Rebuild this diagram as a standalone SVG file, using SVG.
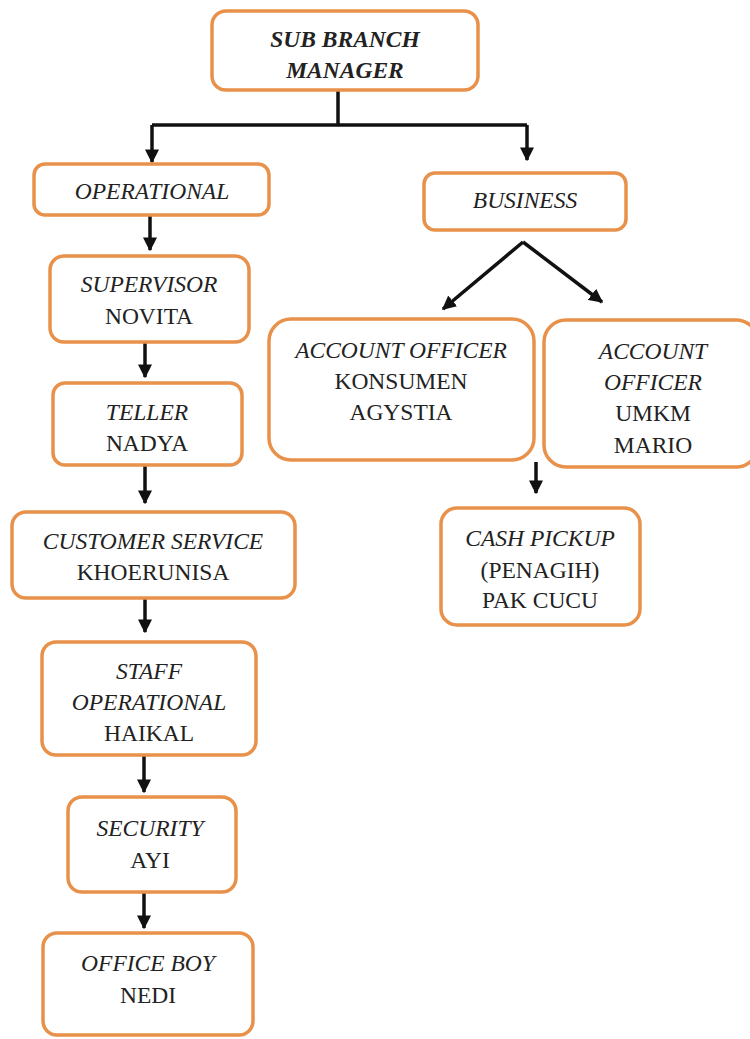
<svg xmlns="http://www.w3.org/2000/svg" width="750" height="1039" viewBox="0 0 750 1039">
<defs>
<marker id="ah" viewBox="0 0 10 10" refX="9" refY="5" markerWidth="4" markerHeight="4" orient="auto" markerUnits="strokeWidth">
<path d="M0,0 L10,5 L0,10 z" fill="#111"/>
</marker>
<style>
.box{fill:#fff;stroke:#E8914A;stroke-width:3.5}
.t{font-family:"Liberation Serif","Times New Roman",serif;font-size:23.5px;fill:#222;text-anchor:middle}
.i{font-style:italic}
.b{font-weight:bold}
.c{fill:none;stroke:#111;stroke-width:3.5}
</style>
</defs>
<rect width="750" height="1039" fill="#fff"/>
<g id="connectors">
<path class="c" d="M338,90 V125"/>
<path class="c" d="M152,125 H527"/>
<path class="c" d="M152,125 V162" marker-end="url(#ah)"/>
<path class="c" d="M527,125 V160" marker-end="url(#ah)"/>
<path class="c" d="M150,216 V250" marker-end="url(#ah)"/>
<path class="c" d="M145,343 V377" marker-end="url(#ah)"/>
<path class="c" d="M145,466 V503" marker-end="url(#ah)"/>
<path class="c" d="M145,599 V632" marker-end="url(#ah)"/>
<path class="c" d="M144,756 V792" marker-end="url(#ah)"/>
<path class="c" d="M144,893 V928" marker-end="url(#ah)"/>
<path class="c" d="M523,242 L443,309" marker-end="url(#ah)"/>
<path class="c" d="M523,242 L602,302" marker-end="url(#ah)"/>
<path class="c" d="M536,462 V493" marker-end="url(#ah)"/>
</g>
<g id="sbm">
<rect class="box" x="212" y="11" width="266" height="79" rx="14"/>
<text class="t i b" x="345" y="47">SUB BRANCH</text>
<text class="t i b" x="345" y="78">MANAGER</text>
</g>
<g id="operational">
<rect class="box" x="34" y="164" width="235" height="51" rx="11"/>
<text class="t i" x="152" y="199">OPERATIONAL</text>
</g>
<g id="business">
<rect class="box" x="424" y="173" width="202" height="57" rx="11"/>
<text class="t i" x="525" y="208">BUSINESS</text>
</g>
<g id="supervisor">
<rect class="box" x="50" y="256" width="199" height="86" rx="14"/>
<text class="t i" x="149" y="292">SUPERVISOR</text>
<text class="t" x="149" y="324">NOVITA</text>
</g>
<g id="teller">
<rect class="box" x="53" y="383" width="189" height="82" rx="12"/>
<text class="t i" x="147" y="420">TELLER</text>
<text class="t" x="147" y="451">NADYA</text>
</g>
<g id="cs">
<rect class="box" x="12" y="512" width="283" height="86" rx="14"/>
<text class="t i" x="153" y="549">CUSTOMER SERVICE</text>
<text class="t" x="153" y="580">KHOERUNISA</text>
</g>
<g id="staff">
<rect class="box" x="42" y="642" width="214" height="113" rx="14"/>
<text class="t i" x="149" y="679">STAFF</text>
<text class="t i" x="149" y="710">OPERATIONAL</text>
<text class="t" x="149" y="741">HAIKAL</text>
</g>
<g id="security">
<rect class="box" x="68" y="797" width="168" height="95" rx="14"/>
<text class="t i" x="150" y="836">SECURITY</text>
<text class="t" x="150" y="868">AYI</text>
</g>
<g id="officeboy">
<rect class="box" x="43" y="933" width="210" height="102" rx="14"/>
<text class="t i" x="148" y="971">OFFICE BOY</text>
<text class="t" x="148" y="1003">NEDI</text>
</g>
<g id="ao-konsumen">
<rect class="box" x="269" y="319" width="265" height="141" rx="22"/>
<text class="t i" x="401" y="358">ACCOUNT OFFICER</text>
<text class="t" x="401" y="389">KONSUMEN</text>
<text class="t" x="401" y="420">AGYSTIA</text>
</g>
<g id="ao-umkm">
<rect class="box" x="544" y="320" width="214" height="147" rx="22"/>
<text class="t i" x="653" y="359">ACCOUNT</text>
<text class="t i" x="653" y="390">OFFICER</text>
<text class="t" x="653" y="421">UMKM</text>
<text class="t" x="653" y="453">MARIO</text>
</g>
<g id="cashpickup">
<rect class="box" x="441" y="508" width="199" height="117" rx="16"/>
<text class="t i" x="540" y="546">CASH PICKUP</text>
<text class="t" x="540" y="578">(PENAGIH)</text>
<text class="t" x="540" y="608">PAK CUCU</text>
</g>
</svg>
